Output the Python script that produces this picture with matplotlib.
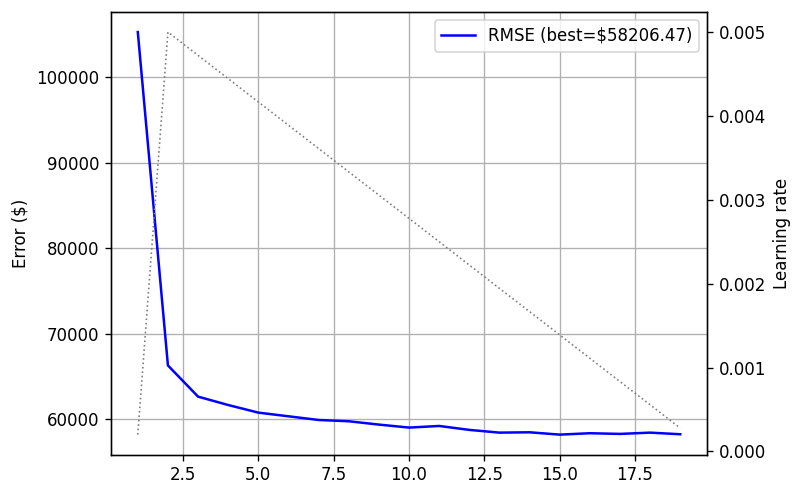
import matplotlib
matplotlib.use("Agg")
import matplotlib.pyplot as plt

# values
epochs = list(range(1, 20))
rmse = [105300, 66300, 62650, 61670, 60780, 60350, 59920, 59770, 59380, 59030,
        59220, 58760, 58440, 58480, 58206.47, 58370, 58290, 58440, 58250]
lr = [0.0002, 0.005, 0.004722, 0.004444, 0.004167, 0.003889, 0.003611, 0.003333,
      0.003056, 0.002778, 0.0025, 0.002222, 0.001944, 0.001667, 0.001389,
      0.001111, 0.000833, 0.000556, 0.000278]
best = min(rmse)

dpi = 120
fig, ax1 = plt.subplots(figsize=(802 / dpi, 497 / dpi), dpi=dpi)
fig.subplots_adjust(left=0.138, right=0.882, top=0.976, bottom=0.085)

ax1.plot(epochs, rmse, color="blue", label=f"RMSE (best=${best:.2f})")
ax1.set_ylabel("Error ($)")
ax1.grid(True)

ax2 = ax1.twinx()
ax2.plot(epochs, lr, color="gray", linestyle=":", linewidth=1)
ax2.set_ylabel("Learning rate")

ax1.legend(loc="upper right")
fig.savefig("out.png", dpi=dpi)
